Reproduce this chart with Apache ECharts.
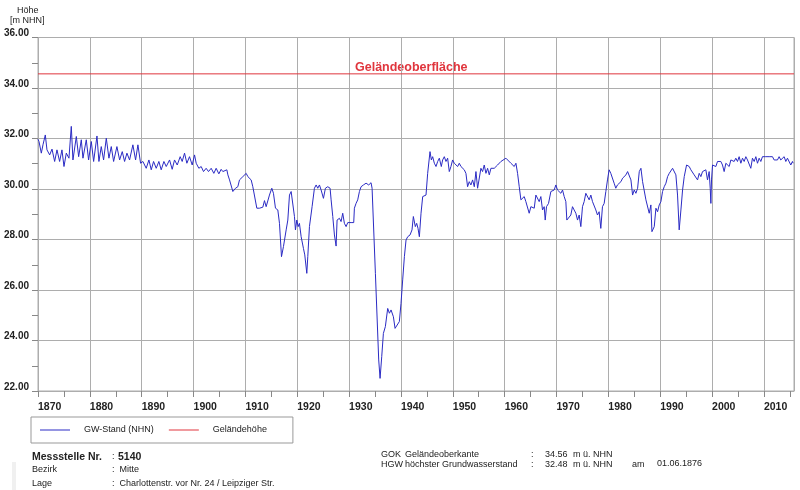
<!DOCTYPE html>
<html>
<head>
<meta charset="utf-8">
<script src="https://cdn.jsdelivr.net/npm/echarts@6/dist/echarts.min.js"></script>
<style>
  html, body { margin: 0; padding: 0; background: #fff; }
  #gwChart { width: 800px; height: 490px; }
</style>
</head>
<body>
<div id="gwChart"></div>
<script>
// Grundwasserstand Messstelle 5140, [Jahr, m NHN]
const gw1870 = [
  [1870.00, 31.97], [1870.19, 31.88], [1870.64, 31.42], [1870.96, 31.75], [1871.41, 32.14], [1871.73, 31.55],
  [1872.25, 31.35], [1872.70, 31.58], [1873.21, 31.09], [1873.66, 31.55], [1874.17, 31.09], [1874.62, 31.55],
  [1875.01, 30.89], [1875.46, 31.42], [1875.97, 31.22], [1876.42, 32.48], [1876.74, 31.15], [1877.39, 32.08],
  [1877.84, 31.28], [1878.35, 31.95], [1878.67, 31.22], [1879.31, 31.95], [1879.76, 31.15], [1880.28, 31.88],
  [1880.73, 31.09], [1881.37, 32.10], [1881.75, 31.09], [1882.20, 31.68], [1882.65, 31.15], [1883.17, 32.01],
  [1883.68, 31.22], [1884.13, 31.68], [1884.58, 31.09], [1885.22, 31.68], [1885.74, 31.15], [1886.25, 31.48],
  [1886.70, 31.09], [1887.15, 31.42], [1887.66, 31.15], [1888.30, 31.75], [1888.82, 31.15], [1889.27, 31.75],
  [1889.78, 31.02], [1890.23, 31.09], [1890.87, 30.82], [1891.39, 31.15], [1891.84, 30.76], [1892.29, 31.09],
  [1892.80, 30.82], [1893.31, 31.09], [1893.76, 30.76], [1894.28, 31.09], [1894.73, 30.89], [1895.37, 31.15],
  [1895.88, 30.78], [1896.33, 31.15], [1896.85, 30.95], [1897.42, 31.28], [1897.81, 31.09], [1898.26, 31.42],
  [1898.71, 31.02], [1899.22, 31.28], [1899.74, 30.95], [1900.19, 31.35], [1900.51, 31.02], [1901.02, 30.82],
  [1901.47, 30.89], [1901.92, 30.69], [1902.43, 30.82], [1902.88, 30.69], [1903.40, 30.82], [1903.91, 30.62],
  [1904.36, 30.82], [1904.88, 30.60], [1905.32, 30.78]
]
const gw1905 = [
  [1905.65, 30.69], [1905.97, 30.76], [1906.42, 30.76], [1906.62, 30.56], [1906.94, 30.36], [1907.26, 30.36],
  [1907.58, 29.90], [1908.09, 30.03], [1908.54, 30.09], [1908.86, 30.36], [1909.51, 30.49], [1909.83, 30.56],
  [1910.15, 30.62], [1910.47, 30.49], [1910.79, 30.56], [1911.11, 30.36], [1911.43, 30.09], [1911.75, 30.03],
  [1912.20, 29.24], [1912.72, 29.24], [1913.36, 29.28], [1913.68, 29.54], [1914.00, 29.30], [1914.32, 29.24],
  [1914.64, 29.76], [1915.09, 30.03], [1915.41, 29.83], [1915.80, 29.24], [1916.25, 29.17], [1916.57, 28.64],
  [1916.96, 27.32], [1917.34, 27.72], [1917.86, 28.38], [1918.18, 28.77], [1918.50, 29.76], [1918.82, 29.90],
  [1919.14, 29.83], [1919.46, 28.91], [1919.65, 28.38], [1919.91, 28.77], [1920.17, 28.51], [1920.42, 28.64],
  [1920.75, 28.11], [1921.19, 27.65], [1921.45, 27.39], [1921.84, 26.66], [1922.03, 27.32], [1922.35, 28.51],
  [1922.86, 29.30], [1923.31, 30.03], [1923.64, 30.16], [1923.96, 30.03], [1924.28, 30.16], [1924.60, 29.96],
  [1925.05, 29.63], [1925.43, 30.03], [1925.88, 30.09], [1926.33, 30.03], [1926.53, 29.57], [1926.85, 28.91],
  [1927.17, 28.18], [1927.49, 27.74], [1927.68, 28.77], [1928.13, 28.84], [1928.45, 28.71], [1928.77, 29.04],
  [1929.09, 28.64], [1929.42, 28.51], [1929.74, 28.67], [1930.38, 28.67], [1930.89, 28.67], [1931.02, 29.24],
  [1931.34, 29.43], [1931.66, 29.57], [1931.99, 29.90], [1932.31, 30.09], [1932.76, 30.16], [1933.27, 30.23],
  [1933.78, 30.16], [1934.23, 30.25], [1934.43, 30.03], [1935.07, 26.66], [1935.71, 23.23], [1935.97, 22.50],
  [1936.29, 23.36], [1936.61, 24.28], [1936.99, 24.55], [1937.44, 25.27], [1937.77, 25.08], [1938.09, 25.21],
  [1938.54, 24.94], [1938.86, 24.48], [1939.24, 24.55], [1939.69, 24.75], [1940.01, 25.47], [1940.33, 26.40],
  [1940.66, 27.32], [1940.98, 27.98], [1941.30, 28.11], [1941.75, 28.18], [1942.13, 28.38], [1942.39, 28.91],
  [1942.77, 28.51], [1943.03, 28.64], [1943.29, 28.44], [1943.55, 28.11], [1943.87, 29.04], [1944.19, 29.70],
  [1944.51, 29.76], [1944.83, 29.76], [1945.15, 30.62], [1945.60, 31.48], [1945.86, 31.15], [1946.11, 31.28],
  [1946.44, 31.02], [1946.76, 30.89], [1947.08, 31.09], [1947.40, 31.22]
]
const gw1947 = [
  [1947.52, 31.22], [1947.78, 30.89], [1948.04, 31.15], [1948.36, 31.28], [1948.68, 31.09], [1949.00, 31.22],
  [1949.32, 30.69], [1949.64, 30.89], [1949.96, 31.15], [1950.28, 31.02], [1950.61, 30.95], [1950.93, 30.89],
  [1951.25, 31.02], [1951.57, 30.89], [1951.89, 30.95], [1952.21, 30.76], [1952.53, 30.62], [1952.85, 30.09],
  [1953.17, 30.29], [1953.49, 30.16], [1953.82, 30.36], [1954.14, 30.09], [1954.46, 30.69], [1954.78, 30.03],
  [1955.10, 30.09], [1955.42, 30.82], [1955.74, 30.69], [1956.06, 30.95], [1956.39, 30.62], [1956.71, 30.82],
  [1957.03, 30.56], [1957.35, 30.82], [1957.67, 30.89], [1957.99, 30.82], [1958.31, 30.89], [1958.63, 30.95],
  [1959.28, 31.09], [1960.24, 31.22], [1961.20, 31.02], [1961.84, 30.89], [1962.17, 31.02], [1962.49, 30.62],
  [1962.81, 30.09], [1963.13, 29.57], [1963.45, 29.57], [1963.77, 29.70], [1964.09, 29.50], [1964.41, 29.57],
  [1964.73, 29.04], [1965.06, 29.30], [1965.38, 29.37], [1965.70, 29.24], [1966.02, 29.76], [1966.34, 29.83],
  [1966.66, 29.50], [1966.98, 29.70], [1967.30, 29.17], [1967.62, 29.30], [1967.82, 28.77], [1968.07, 29.30],
  [1968.46, 29.43], [1968.91, 29.90], [1969.23, 29.83], [1969.55, 29.96], [1969.87, 30.16], [1970.19, 29.96],
  [1970.52, 30.03], [1970.84, 29.83], [1971.16, 29.96], [1971.48, 29.70], [1971.80, 29.50], [1971.99, 28.77],
  [1972.31, 28.84], [1972.76, 28.97], [1973.08, 29.30], [1973.40, 29.17], [1973.73, 29.04], [1974.05, 28.77],
  [1974.37, 28.97], [1974.69, 28.51], [1975.01, 29.30], [1975.33, 29.50], [1975.65, 29.83], [1975.97, 29.86],
  [1976.30, 29.57], [1976.62, 29.76], [1976.94, 29.50], [1977.26, 29.57], [1977.58, 29.17], [1977.90, 28.97],
  [1978.22, 29.10], [1978.54, 28.44], [1978.86, 29.30], [1979.19, 29.43], [1979.51, 29.90], [1979.83, 30.36],
  [1980.15, 30.76], [1980.47, 30.62], [1980.79, 30.62], [1981.11, 30.23], [1981.43, 30.03], [1981.75, 30.16]
]
const gw1982 = [
  [1982.10, 30.16], [1982.42, 30.29], [1982.75, 30.43], [1983.07, 30.36], [1983.39, 30.56], [1983.71, 30.69],
  [1984.03, 30.76], [1984.35, 30.36], [1984.67, 29.76], [1984.99, 29.96], [1985.31, 29.83], [1985.64, 30.03],
  [1985.96, 30.69], [1986.28, 30.82], [1986.60, 30.29], [1986.92, 30.29], [1987.24, 29.57], [1987.56, 29.50],
  [1987.88, 29.04], [1988.20, 29.37], [1988.40, 28.31], [1988.65, 28.25], [1988.85, 28.51], [1989.17, 29.24],
  [1989.49, 29.10], [1989.81, 29.37], [1990.13, 29.50], [1990.45, 29.90], [1990.77, 30.09], [1991.10, 30.23],
  [1991.42, 30.49], [1991.74, 30.62], [1992.06, 30.69], [1992.38, 30.82], [1992.70, 30.76], [1993.02, 30.56],
  [1993.34, 29.76], [1993.66, 28.38], [1993.99, 29.17], [1994.31, 29.96], [1994.63, 30.49], [1995.08, 30.95],
  [1995.59, 30.89], [1995.91, 30.76], [1996.23, 30.69], [1996.55, 30.56], [1996.88, 30.49], [1997.20, 30.36],
  [1997.52, 30.62], [1997.84, 30.49], [1998.16, 30.69], [1998.48, 30.62], [1998.80, 30.76], [1999.12, 30.36],
  [1999.44, 30.69], [1999.64, 30.03], [1999.77, 29.43], [1999.89, 30.36], [2000.09, 30.95], [2000.41, 31.02],
  [2000.73, 30.89], [2001.05, 31.09], [2001.37, 31.02], [2001.69, 31.09], [2002.01, 30.95], [2002.33, 30.69],
  [2002.66, 31.02], [2002.98, 31.09], [2003.30, 30.89], [2003.62, 31.15], [2003.94, 31.22], [2004.26, 31.09],
  [2004.58, 31.22], [2004.90, 31.09], [2005.22, 31.28], [2005.55, 31.02], [2005.87, 31.22], [2006.19, 31.09],
  [2006.51, 31.28], [2006.83, 31.15], [2007.15, 31.22], [2007.47, 30.82], [2007.79, 31.22], [2008.12, 31.09],
  [2008.44, 31.28], [2008.76, 31.02], [2009.08, 31.22], [2009.40, 31.09], [2009.72, 31.28], [2010.04, 31.22],
  [2010.36, 31.28], [2010.68, 31.35], [2011.00, 31.28], [2011.33, 31.22], [2011.65, 31.28], [2011.97, 31.15],
  [2012.29, 31.22], [2012.61, 31.15], [2012.93, 31.28], [2013.25, 31.15], [2013.57, 31.22], [2013.90, 31.28],
  [2014.22, 31.09], [2014.54, 31.22], [2014.86, 31.15], [2015.18, 30.95], [2015.50, 31.09], [2015.63, 31.02]
]
const gelaendehoehe = 34.56
const yearRange = [1870, 2015.8]
const levelRange = [22, 36]
const seriesNames = ['GW-Stand (NHN)', 'Geländehöhe']

const FONT = 'Arial, "Liberation Sans", sans-serif'
const gridColor = '#adadad'

// text placed by its vertical centre
function txt(x, cy, text, opts) {
  const style = Object.assign({
    text: text,
    fontFamily: FONT,
    fontSize: 9,
    fill: '#222'
  }, opts || {})
  return {
    type: 'text',
    left: x,
    top: cy - style.fontSize / 2 + 1.5,
    style: style
  }
}

const chart = echarts.init(document.getElementById('gwChart'), null, { renderer: 'canvas' })

const option = {
  backgroundColor: '#fff',
  animation: false,
  textStyle: { fontFamily: FONT },
  grid: {
    left: 38,
    top: 37.5,
    right: 6,
    bottom: 99,
    show: true,
    borderColor: gridColor,
    borderWidth: 1
  },
  legend: {
    left: 31,
    top: 417,
    padding: [8.5, 26, 8.5, 9],
    itemGap: 15,
    itemWidth: 30,
    itemHeight: 1,
    icon: 'rect',
    borderColor: '#999',
    borderWidth: 1,
    data: seriesNames,
    textStyle: { fontSize: 9, color: '#222', padding: [0, 0, 0, 9], fontFamily: FONT }
  },
  xAxis: {
    type: 'value',
    min: yearRange[0],
    max: yearRange[1],
    interval: 5,
    axisLine: { show: true, lineStyle: { color: gridColor } },
    axisTick: { show: true, length: 6, lineStyle: { color: '#888' } },
    splitLine: { show: true, lineStyle: { color: [gridColor, 'transparent'], width: 1 } },
    axisLabel: {
      showMaxLabel: false,
      align: 'left',
      margin: 10.5,
      fontSize: 10.5,
      fontWeight: 'bold',
      color: '#222',
      fontFamily: FONT,
      formatter: v => (v % 10 === 0 ? String(v) : '')
    }
  },
  yAxis: {
    type: 'value',
    min: levelRange[0],
    max: levelRange[1],
    interval: 1,
    axisLine: { show: true, lineStyle: { color: gridColor } },
    axisTick: { show: true, length: 6, lineStyle: { color: '#888' } },
    splitLine: { show: true, lineStyle: { color: [gridColor, 'transparent'], width: 1 } },
    axisLabel: {
      margin: 9,
      fontSize: 10,
      fontWeight: 'bold',
      color: '#222',
      fontFamily: FONT,
      verticalAlign: 'bottom',
      lineHeight: 8,
      formatter: v => (v % 2 === 0 ? v.toFixed(2) : '')
    }
  },
  series: [
    {
      name: seriesNames[0],
      type: 'line',
      data: gw1870.concat(gw1905, gw1947, gw1982),
      showSymbol: false,
      symbol: 'none',
      lineStyle: { color: '#2b2bc4', width: 1 },
      itemStyle: { color: '#2b2bc4' }
    },
    {
      name: seriesNames[1],
      type: 'line',
      data: [[yearRange[0], gelaendehoehe], [yearRange[1], gelaendehoehe]],
      showSymbol: false,
      symbol: 'none',
      lineStyle: { color: '#e0353d', width: 1 },
      itemStyle: { color: '#e0353d' }
    }
  ],
  graphic: [
    txt(17, 9, 'Höhe'),
    txt(10, 19, '[m NHN]'),
    txt(355, 66, 'Geländeoberfläche', { fontSize: 12.5, fontWeight: 'bold', fill: '#e0353d' }),
    { type: 'rect', left: 12, top: 462, shape: { width: 4, height: 28 }, style: { fill: '#f0f0f0' } },
    txt(32, 455, 'Messstelle Nr.', { fontSize: 10.5, fontWeight: 'bold' }),
    txt(112, 455, ':'),
    txt(118, 455, '5140', { fontSize: 10.5, fontWeight: 'bold' }),
    txt(32, 468.5, 'Bezirk'),
    txt(112, 468.5, ':  Mitte'),
    txt(32, 482, 'Lage'),
    txt(112, 482, ':  Charlottenstr. vor Nr. 24 / Leipziger Str.'),
    txt(381, 453.5, 'GOK'),
    txt(405, 453.5, 'Geländeoberkante'),
    txt(531, 453.5, ':'),
    txt(545, 453.5, '34.56'),
    txt(573, 453.5, 'm ü. NHN'),
    txt(381, 463.5, 'HGW'),
    txt(405, 463.5, 'höchster Grundwasserstand'),
    txt(531, 463.5, ':'),
    txt(545, 463.5, '32.48'),
    txt(573, 463.5, 'm ü. NHN'),
    txt(632, 463.5, 'am'),
    txt(657, 462, '01.06.1876')
  ]
}

chart.setOption(option)
</script>
</body>
</html>
